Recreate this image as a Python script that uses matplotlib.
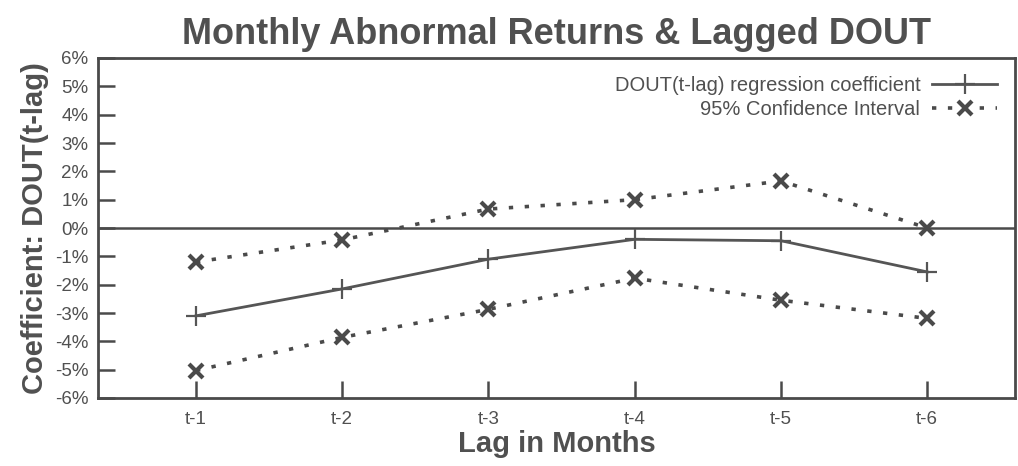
import matplotlib
matplotlib.use("Agg")
from matplotlib import pyplot as plt

# values, in percent
lags = ["t-1", "t-2", "t-3", "t-4", "t-5", "t-6"]
coef = [-3.1, -2.15, -1.1, -0.4, -0.45, -1.55]
ci_upper = [-1.2, -0.42, 0.67, 1.0, 1.66, 0.0]
ci_lower = [-5.03, -3.86, -2.87, -1.77, -2.55, -3.19]

plt.rcParams['font.family'] = ['Liberation Sans', 'DejaVu Sans']
grey = "#4a4a4a"
txt = "#505050"

fig = plt.figure(figsize=(10.18, 4.66), dpi=100)
ax = fig.add_axes([98 / 1018, 1 - 398 / 466, (1015 - 98) / 1018, (398 - 58) / 466])

x = list(range(1, len(lags) + 1))
ax.plot(x, coef, color="#555555", lw=2.0, marker='+', ms=14, mew=1.6,
        label="DOUT(t-lag) regression coefficient")
ax.plot(x, ci_upper, color=grey, lw=2.6, ls=(0, (1.2, 3.2)), marker='x', ms=10, mew=3,
        label="95% Confidence Interval")
ax.plot(x, ci_lower, color=grey, lw=2.6, ls=(0, (1.2, 3.2)), marker='x', ms=10, mew=3)
ax.axhline(0, color=grey, lw=1.8, zorder=1)

ax.set_xlim(0.33, 6.6)
ax.set_ylim(-6, 6)
ax.set_xticks(x)
ax.set_xticklabels(lags)
ax.set_yticks(range(-6, 7))
ax.set_yticklabels([f"{v}%" for v in range(-6, 7)])
ax.tick_params(direction='in', length=12, width=1.8, colors=grey, labelcolor=txt,
               labelsize=13.5, pad=9)
ax.tick_params(axis='y', pad=7)
for s in ax.spines.values():
    s.set_color(grey)
    s.set_linewidth(2)

ax.set_title("Monthly Abnormal Returns & Lagged DOUT", fontsize=26, fontweight='bold',
             color=txt, pad=10)
ax.set_xlabel("Lag in Months", fontsize=21, fontweight='bold', color=txt, labelpad=2)
ax.set_ylabel("Coefficient: DOUT(t-lag)", fontsize=21, fontweight='bold', color=txt, labelpad=4)

leg = ax.legend(loc='upper right', frameon=False, markerfirst=False, fontsize=14.5,
                handlelength=3.2, handletextpad=0.6, labelspacing=0.25, borderaxespad=0.5)
for t in leg.get_texts():
    t.set_color(txt)

fig.savefig("out.png", dpi=100)
